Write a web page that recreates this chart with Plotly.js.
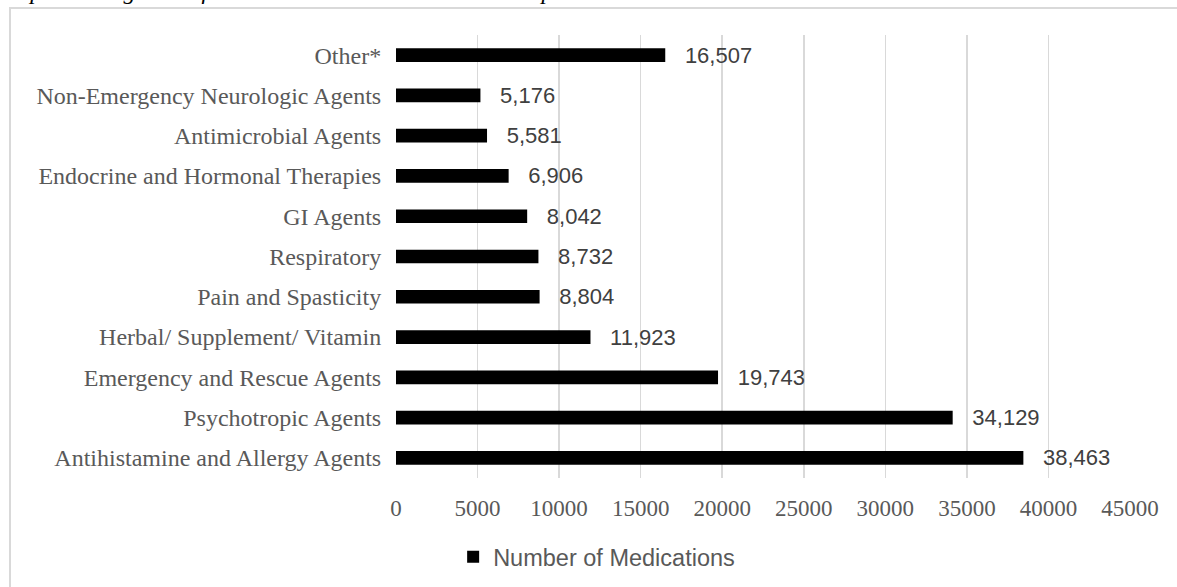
<!DOCTYPE html>
<html>
<head>
<meta charset="utf-8">
<script src="https://cdn.plot.ly/plotly-3.0.1.min.js"></script>
<style>
html,body{margin:0;padding:0;background:#fff;overflow:hidden;}
#frame{position:absolute;left:9px;top:7px;width:1200px;height:600px;border-left:2px solid #d9d9d9;border-top:2px solid #d9d9d9;}
#chart{position:absolute;left:0;top:0;width:1177px;height:587px;}
</style>
</head>
<body>
<div id="frame"></div>
<div id="chart"></div>
<script>
const categories = [
  "Antihistamine and Allergy Agents",
  "Psychotropic Agents",
  "Emergency and Rescue Agents",
  "Herbal/ Supplement/ Vitamin",
  "Pain and Spasticity",
  "Respiratory",
  "GI Agents",
  "Endocrine and Hormonal Therapies",
  "Antimicrobial Agents",
  "Non-Emergency Neurologic Agents",
  "Other*"
];
const medications = [38463, 34129, 19743, 11923, 8804, 8732, 8042, 6906, 5581, 5176, 16507];
const seriesName = "Number of Medications";
const titleText = "Top 10 Categories of Medications Administered at Camp";
const xTicks = [0, 5000, 10000, 15000, 20000, 25000, 30000, 35000, 40000, 45000];

const trace = {
  type: "bar",
  orientation: "h",
  x: medications,
  y: categories,
  name: seriesName,
  marker: {color: "#000000"},
  text: medications.map(v => "  \u2009" + v.toLocaleString("en-US")),
  textposition: "outside",
  constraintext: "none",
  cliponaxis: false,
  textfont: {family: "Liberation Sans, Arial, sans-serif", size: 22, color: "#404040"},
  hoverinfo: "none",
  showlegend: true
};

const layout = {
  width: 1177,
  height: 587,
  margin: {l: 396, r: 47, t: 35, b: 109},
  paper_bgcolor: "rgba(0,0,0,0)",
  plot_bgcolor: "rgba(0,0,0,0)",
  bargap: 0.66,
  font: {family: "Liberation Serif, Times New Roman, serif", color: "#595959"},
  xaxis: {
    range: [0, 45000],
    tickvals: xTicks,
    ticktext: xTicks.map(String),
    showgrid: true,
    gridcolor: "#d9d9d9",
    gridwidth: 1.5,
    zeroline: false,
    showline: false,
    ticks: "",
    ticklabelstandoff: 14,
    tickfont: {family: "Liberation Serif, Times New Roman, serif", size: 23, color: "#595959"},
    fixedrange: true
  },
  yaxis: {
    type: "category",
    categoryorder: "array",
    categoryarray: categories,
    showgrid: false,
    zeroline: false,
    showline: false,
    ticks: "outside",
    ticklen: 9,
    tickcolor: "rgba(0,0,0,0)",
    tickfont: {family: "Liberation Serif, Times New Roman, serif", size: 24, color: "#595959"},
    fixedrange: true
  },
  legend: {
    orientation: "h",
    x: 0.385,
    xanchor: "left",
    xref: "container",
    y: 0.051,
    yref: "container",
    yanchor: "middle",
    font: {family: "Liberation Sans, Arial, sans-serif", size: 23.5, color: "#595959"},
    itemwidth: 30
  },
  annotations: [{
    text: "<i>" + titleText + "</i>",
    xref: "paper", yref: "paper",
    x: -392/735, xanchor: "left",
    y: 1 + 29/443, yanchor: "bottom",
    showarrow: false,
    font: {family: "Liberation Serif, Times New Roman, serif", size: 24, color: "#000000"}
  }]
};

Plotly.newPlot("chart", [trace], layout, {displayModeBar: false, staticPlot: true});
</script>
</body>
</html>
